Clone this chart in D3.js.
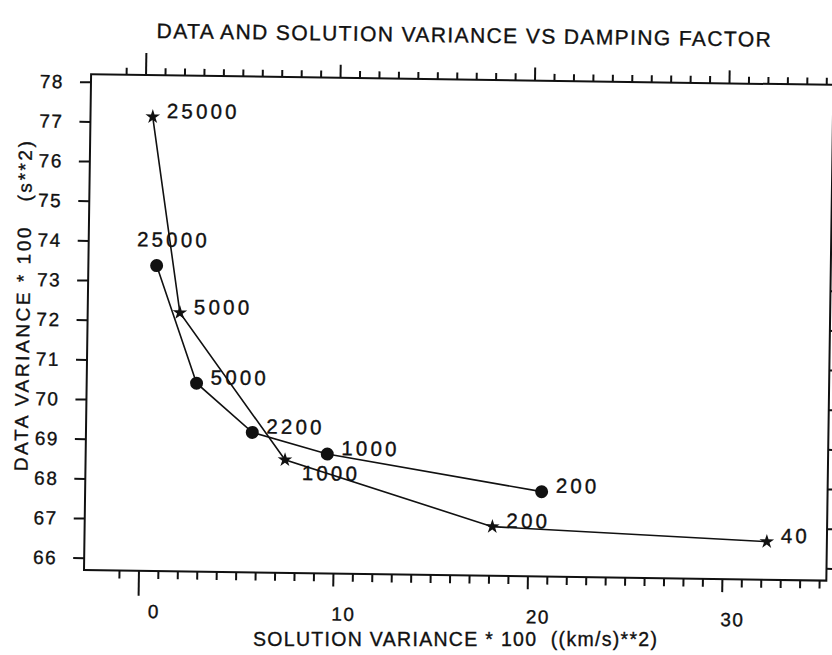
<!DOCTYPE html>
<html>
<head>
<meta charset="utf-8">
<script src="https://cdn.jsdelivr.net/npm/d3@7"></script>
<style>
  html, body { margin: 0; padding: 0; background: #fff; }
  svg { display: block; }
  text { font-family: "Liberation Sans", Arial, Helvetica, sans-serif; fill: #111; stroke: #111; stroke-width: 0.35px; }
</style>
</head>
<body>
<svg id="chart" width="832" height="655"></svg>
<script>
// ---- data ----
const starDamping   = ["25000", "5000", "1000", "200", "40"];
const starSolVar    = [0.40, 1.94, 7.45, 18.16, 32.28];
const starDataVar   = [77.14, 72.21, 68.54, 66.93, 66.65];

const circleDamping = ["25000", "5000", "2200", "1000", "200"];
const circleSolVar  = [0.71, 2.85, 5.75, 9.62, 20.67];
const circleDataVar = [73.39, 70.44, 69.22, 68.70, 67.83];

const yTickValues   = [66, 67, 68, 69, 70, 71, 72, 73, 74, 75, 76, 77, 78];
const xMajorValues  = [0, 10, 20, 30];
const xMinorValues  = d3.range(-1, 36);

const titleText  = "DATA AND SOLUTION VARIANCE VS DAMPING FACTOR";
const xTitleText = "SOLUTION VARIANCE * 100  ((km/s)**2)";
const yTitleText = "DATA VARIANCE * 100   (s**2)";

// label placement (style only)
const starPlacement   = ["right", "right", "below", "right", "right"];
const circlePlacement = ["above", "right", "right", "right", "right"];

// ---- layout ----
const svg = d3.select("#chart");
svg.append("rect").attr("width", 832).attr("height", 655).attr("fill", "#fff");

// the scanned page is slightly rotated
const g = svg.append("g").attr("transform", "rotate(0.82, 84, 570)");

const pLeft = 84, pRight = 826.4, pTop = 74.2, pBottom = 570;
const x = d3.scaleLinear().domain([-2.8, 35.37]).range([pLeft, pRight]);
const y = d3.scaleLinear().domain([65.69, 78.19]).range([pBottom, pTop]);

// frame
g.append("rect")
  .attr("x", pLeft).attr("y", pTop)
  .attr("width", pRight - pLeft).attr("height", pBottom - pTop)
  .attr("fill", "none").attr("stroke", "#111").attr("stroke-width", 2);

function styleAxis(sel) {
  sel.select(".domain").remove();
  sel.selectAll(".tick line").attr("stroke", "#111").attr("stroke-width", 2);
  sel.selectAll(".tick text").remove();
}

// bottom ticks (outward, downward)
g.append("g").attr("transform", `translate(0,${pBottom})`)
  .call(d3.axisBottom(x).tickValues(xMinorValues.filter(v => v % 10 !== 0)).tickSize(8))
  .call(styleAxis);
g.append("g").attr("transform", `translate(0,${pBottom})`)
  .call(d3.axisBottom(x).tickValues(xMajorValues.filter(v => v !== 0)).tickSize(13))
  .call(styleAxis);
g.append("g").attr("transform", `translate(0,${pBottom})`)
  .call(d3.axisBottom(x).tickValues([0]).tickSize(25))
  .call(styleAxis);

// top ticks (outward, upward)
g.append("g").attr("transform", `translate(0,${pTop})`)
  .call(d3.axisTop(x).tickValues(xMinorValues.filter(v => v % 10 !== 0)).tickSize(7))
  .call(styleAxis);
g.append("g").attr("transform", `translate(0,${pTop})`)
  .call(d3.axisTop(x).tickValues(xMajorValues.filter(v => v !== 0)).tickSize(13))
  .call(styleAxis);
g.append("g").attr("transform", `translate(0,${pTop})`)
  .call(d3.axisTop(x).tickValues([0]).tickSize(22))
  .call(styleAxis);

// left / right ticks
g.append("g").attr("transform", `translate(${pLeft},0)`)
  .call(d3.axisLeft(y).tickValues(yTickValues).tickSize(11))
  .call(styleAxis);
g.append("g").attr("transform", `translate(${pRight},0)`)
  .call(d3.axisRight(y).tickValues(yTickValues).tickSize(11))
  .call(styleAxis);

// y tick labels
g.append("g").selectAll("text").data(yTickValues).join("text")
  .attr("x", 57).attr("y", d => y(d)).attr("dy", "0.36em")
  .attr("text-anchor", "end")
  .attr("font-size", 19).attr("letter-spacing", "1.5px")
  .text(d => d);

// x tick labels
g.append("g").selectAll("text").data(xMajorValues).join("text")
  .attr("x", d => x(d) + (d === 0 ? 16 : 11)).attr("y", 617)
  .attr("text-anchor", "middle")
  .attr("font-size", 19).attr("letter-spacing", "1.5px")
  .text(d => d);

// titles
g.append("text").attr("x", 149).attr("y", 37)
  .attr("font-size", 21).attr("textLength", 614).attr("lengthAdjust", "spacing")
  .text(titleText);
svg.append("text").attr("x", 253).attr("y", 646)
  .attr("font-size", 19.5).attr("textLength", 404).attr("lengthAdjust", "spacing")
  .style("white-space", "pre")
  .text(xTitleText);
g.append("text").attr("transform", "translate(26,307) rotate(-90)")
  .attr("text-anchor", "middle")
  .attr("font-size", 19).attr("textLength", 330).attr("lengthAdjust", "spacing")
  .style("white-space", "pre")
  .text(yTitleText);

// series
const starData = starSolVar.map((v, i) => ({ sx: v, dy: starDataVar[i], lab: starDamping[i], pl: starPlacement[i] }));
const circleData = circleSolVar.map((v, i) => ({ sx: v, dy: circleDataVar[i], lab: circleDamping[i], pl: circlePlacement[i] }));

const line = d3.line().x(d => x(d.sx)).y(d => y(d.dy));

g.append("path").datum(starData).attr("d", line)
  .attr("fill", "none").attr("stroke", "#111").attr("stroke-width", 1.6);
g.append("path").datum(circleData).attr("d", line)
  .attr("fill", "none").attr("stroke", "#111").attr("stroke-width", 1.6);

g.append("g").selectAll("path").data(starData).join("path")
  .attr("transform", d => `translate(${x(d.sx)},${y(d.dy)})`)
  .attr("d", d3.symbol(d3.symbolStar, 66))
  .attr("fill", "#111");

g.append("g").selectAll("circle").data(circleData).join("circle")
  .attr("cx", d => x(d.sx)).attr("cy", d => y(d.dy)).attr("r", 6.5)
  .attr("fill", "#111");

function placeLabel(d) {
  if (d.pl === "above") return [x(d.sx) - 20, y(d.dy) - 19];
  if (d.pl === "below") return [x(d.sx) + 17, y(d.dy) + 20];
  return [x(d.sx) + 14, y(d.dy) + 1];
}

g.append("g").selectAll("text").data(starData.concat(circleData)).join("text")
  .attr("x", d => placeLabel(d)[0]).attr("y", d => placeLabel(d)[1])
  .attr("font-size", 20.5).attr("letter-spacing", "3.2px")
  .text(d => d.lab);
</script>
</body>
</html>
